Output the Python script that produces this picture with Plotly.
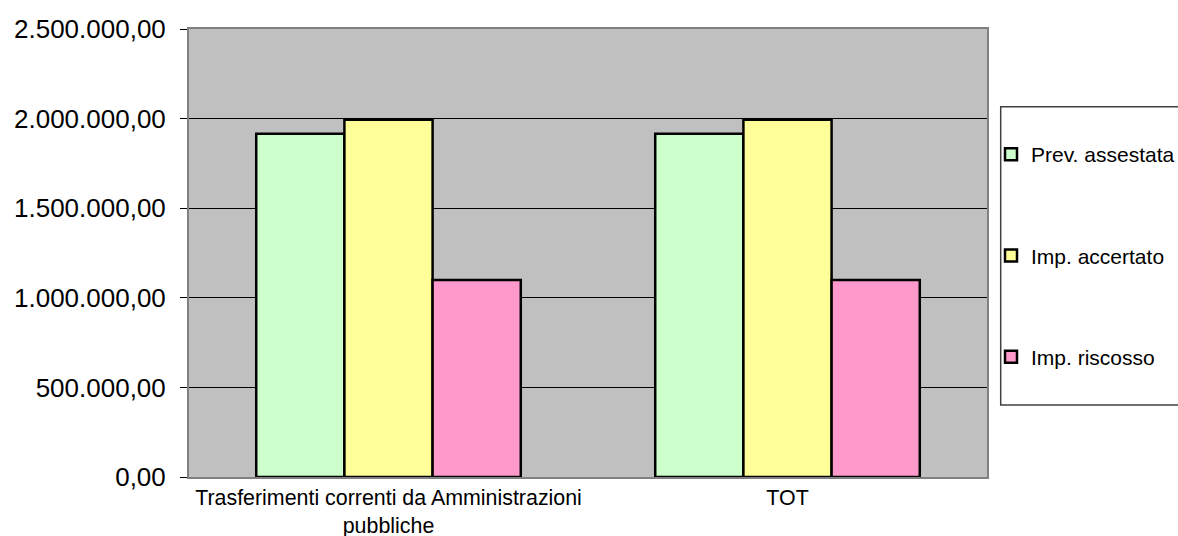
import plotly.graph_objects as go

categories = ["Trasferimenti correnti da Amministrazioni<br>pubbliche", "TOT"]
series_names = ["Prev. assestata", "Imp. accertato", "Imp. riscosso"]
prev_assestata = [1916000, 1916000]
imp_accertato = [1994000, 1994000]
imp_riscosso = [1099000, 1099000]
colors = ["#CCFFCC", "#FFFF99", "#FF99CC"]
y_ticks = [0, 500000, 1000000, 1500000, 2000000, 2500000]

W, H = 1178, 536
L, R, T, B = 189, 191, 29, 59
pw, ph = W - L - R, H - T - B

def px_x(x):
    return (x - L) / pw

def px_y(y):
    return (H - B - y) / ph

fig = go.Figure()
for i, (name, vals) in enumerate(zip(series_names, [prev_assestata, imp_accertato, imp_riscosso])):
    fig.add_trace(go.Bar(
        x=categories, y=vals, name=name, legendgroup=name,
        marker=dict(color=colors[i], line=dict(color="black", width=2.5)),
    ))

fig.update_layout(
    width=W, height=H,
    margin=dict(l=L, r=R, t=T, b=B, pad=0, autoexpand=False),
    paper_bgcolor="white", plot_bgcolor="#C0C0C0",
    font=dict(family="Liberation Sans, Arial, sans-serif", color="black"),
    separators=",.",
    barmode="group", bargap=0.337, bargroupgap=0,
    showlegend=True,
    legend=dict(
        x=px_x(991), xanchor="left", y=px_y(134), yanchor="top",
        font=dict(size=21), tracegroupgap=71,
        bgcolor="rgba(0,0,0,0)", borderwidth=0,
    ),
    shapes=[dict(
        type="rect", xref="paper", yref="paper",
        x0=px_x(1000.7), x1=px_x(1185), y0=px_y(405), y1=px_y(106.7),
        line=dict(color="#404040", width=1.5), fillcolor="white", layer="below",
    )],
)
fig.update_yaxes(
    range=[0, 2500000], tickvals=y_ticks, tickformat=",.2f",
    tickfont=dict(size=26), ticks="outside", ticklen=7, tickcolor="black",
    ticklabelstandoff=9, automargin=False,
    showgrid=True, gridcolor="black", gridwidth=1, zeroline=False,
    showline=True, linecolor="#808080", linewidth=2, mirror=True,
)
fig.update_xaxes(
    tickfont=dict(size=21.4), ticks="", automargin=False,
    showline=True, linecolor="#808080", linewidth=2, mirror=True,
)
fig.write_html(
    "out.html",
    config={"displayModeBar": False},
    post_script="document.body.style.margin='0';document.body.style.overflow='hidden';",
)
